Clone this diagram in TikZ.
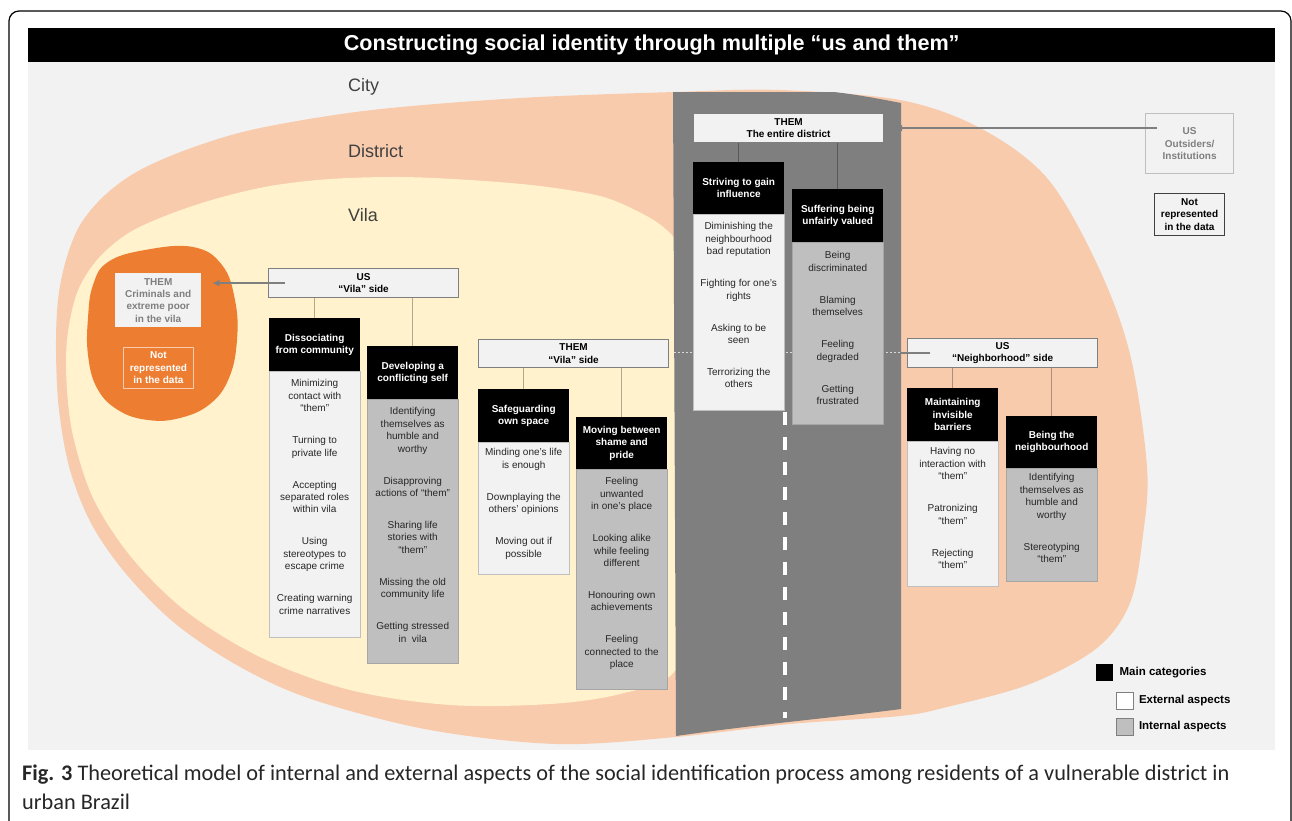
\documentclass[tikz,border=0pt]{standalone}
\usepackage{fontspec}
\setmainfont{Liberation Sans}
\newfontfamily\capfont{Carlito}
\usetikzlibrary{positioning,arrows.meta}

\definecolor{panelgray}{HTML}{F2F2F2}
\definecolor{peach}{HTML}{F8CBAD}
\definecolor{cream}{HTML}{FFF2CC}
\definecolor{vilaorange}{HTML}{ED7D31}
\definecolor{roadgray}{HTML}{7F7F7F}
\definecolor{intgray}{HTML}{BFBFBF}
\definecolor{borderint}{HTML}{A6A6A6}
\definecolor{linegray}{HTML}{7F7F7F}
\definecolor{labelgray}{HTML}{404040}
\definecolor{textdark}{HTML}{262626}

\newlength{\itemgap}
\setlength{\itemgap}{19.6pt}

\begin{document}
\begin{tikzpicture}[x=1pt, y=-1pt,
    hdr/.style={draw=linegray, line width=1.2pt, fill=panelgray, anchor=north west, inner sep=0pt,
        minimum width=190pt, minimum height=29pt, align=center, text=black,
        font=\fontsize{10}{12.4}\selectfont\bfseries},
    cat/.style={fill=black, text=white, anchor=north west, inner sep=0pt, minimum width=91pt,
        align=center, font=\fontsize{10}{12.4}\selectfont\bfseries},
    ext/.style={draw=intgray, line width=1pt, fill=panelgray, inner sep=0pt, minimum width=91pt},
    int/.style={draw=borderint, line width=1pt, fill=intgray, inner sep=0pt, minimum width=91pt},
    item/.style={inner sep=0pt, align=center, text=textdark, font=\fontsize{10}{12.4}\selectfont},
    notebox/.style={anchor=north west, inner sep=0pt, align=center, font=\fontsize{10}{12.4}\selectfont\bfseries},
    link/.style={draw=black, opacity=.3, line width=1pt},
    arr/.style={draw=linegray, line width=1.6pt, -{Latex[length=7pt,width=7pt]}},
    region/.style={anchor=west, inner sep=0pt, text=labelgray, font=\fontsize{18}{20}\selectfont},
    legtext/.style={inner sep=0pt, font=\fontsize{11.5}{13}\selectfont\bfseries}]

    \useasboundingbox (0,0) rectangle (1292,820);

    % rahmen und panel
    \draw[black, line width=1.2pt, rounded corners=10pt] (9,11) rectangle (1291,845);
    \fill[panelgray] (28,28) rectangle (1275,750);
    \node[fill=black, anchor=north west, inner sep=0pt, minimum width=1247pt, minimum height=34pt,
        text=white, font=\fontsize{21.6}{24}\selectfont\bfseries] (title) at (28,28)
        {Constructing social identity through multiple “us and them”};

    % district, vila, road
    \fill[peach] plot[smooth cycle, tension=0.55] coordinates {(780,90) (674,92) (520,98) (372,110)
        (260,128) (194,147) (140,170) (105,195) (80,225) (66,260) (58,300) (56,350) (59,410) (70,470)
        (92,525) (127,575) (177,625) (242,668) (314,700) (430,730) (557,744) (676,737) (790,724)
        (900,716) (947,707) (1030,684) (1097,648) (1130,603) (1143,535) (1147,467) (1130,354)
        (1097,264) (1047,178) (980,128) (900,100)};
    \fill[cream] plot[smooth cycle, tension=0.55] coordinates {(690,300) (678,246) (662,226) (635,210)
        (600,196) (540,186) (470,180) (400,177) (330,179) (270,186) (215,199) (165,216) (127,234)
        (97,260) (77,293) (67,340) (67,390) (74,440) (94,500) (132,558) (187,612) (262,658) (350,690)
        (450,705) (550,704) (620,694) (674,672) (695,600)};
    \fill[vilaorange] plot[smooth cycle, tension=0.7] coordinates {(193,247) (222,265) (235,300)
        (237,340) (229,378) (210,404) (180,418) (148,420) (118,410) (97,388) (88,355) (88,318)
        (93,285) (108,262) (145,250)};
    \fill[roadgray] (673,92) -- (834,92) .. controls (860,95) and (880,99) .. (901,103) -- (901,709)
        .. controls (840,717) and (760,724) .. (676,736) -- cycle;
    \draw[white, line width=3.5pt, dash pattern=on 13pt off 12pt] (785,412) -- (785,718);

    \node[region] (city) at (348,87) {City};
    \node[region] (district) at (348,151) {District};
    \node[region] (vila) at (348,215) {Vila};

    % kopfzeilen
    \node[hdr] (themdist) at (693,113) {THEM\\The entire district};
    \node[hdr] (usvila) at (268,268) {US\\“Vila” side};
    \node[hdr, minimum height=28pt] (themvila) at (478,339) {THEM\\“Vila” side};
    \node[hdr] (usnbh) at (907,338) {US\\“Neighborhood” side};

    \node[notebox, fill=panelgray, minimum width=86pt, minimum height=54pt, text=linegray] (crimin)
        at (115,273) {THEM\\Criminals and\\extreme poor\\in the vila};
    \node[notebox, draw=peach, line width=.8pt, minimum width=70pt, minimum height=41pt, text=white]
        (notrepl) at (123,347) {Not\\represented\\in the data};
    \node[notebox, draw=intgray, line width=1.2pt, minimum width=88pt, minimum height=60pt, text=linegray]
        (outsid) at (1145,113) {US\\Outsiders/\\Institutions};
    \node[notebox, draw=labelgray, line width=1pt, minimum width=70pt, minimum height=42pt, text=black]
        (notrepr) at (1154,193) {Not\\represented\\in the data};

    % pfeile
    \draw[arr, shorten >=11pt] ([xshift=17pt]usvila.west) -- (crimin.east |- usvila.west);
    \draw[arr, shorten >=11pt] ([xshift=12pt]outsid.west |- themdist.east) -- (themdist.east);
    \draw[arr, shorten >=19pt] ([xshift=23pt]usnbh.west) -- (themvila.east |- usnbh.west);
    \draw[roadgray, line width=3pt] (673.5,352.5) -- (900.5,352.5);
    \draw[white!85!black, line width=1.6pt, dash pattern=on 1.6pt off 2.4pt] (674,352.5) -- (900,352.5);

    % the entire district
    \node[cat, minimum height=52pt] (striv) at (693,162) {Striving to gain\\influence};
    \node[ext, minimum height=196pt, below=0pt of striv] (strivx) {};
    \node[item, below=8pt] (strivt) at (strivx.north) {Diminishing the\\neighbourhood\\bad reputation\\[\itemgap]Fighting for one’s\\rights\\[\itemgap]Asking to be\\seen\\[\itemgap]Terrorizing the\\others};

    \node[cat, minimum height=53pt] (suffer) at (792,189) {Suffering being\\unfairly valued};
    \node[int, minimum height=182pt, below=0pt of suffer] (sufferx) {};
    \node[item, below=9pt] (suffert) at (sufferx.north) {Being\\discriminated\\[\itemgap]Blaming\\themselves\\[\itemgap]Feeling\\degraded\\[\itemgap]Getting\\frustrated};

    % us vila side
    \node[cat, minimum height=53pt] (dissoc) at (269,318) {Dissociating\\from community};
    \node[ext, minimum height=266pt, below=0pt of dissoc] (dissocx) {};
    \node[item, below=8pt] (dissoct) at (dissocx.north) {Minimizing\\contact with\\“them”\\[\itemgap]Turning to\\private life\\[\itemgap]Accepting\\separated roles\\within vila\\[\itemgap]Using\\stereotypes to\\escape crime\\[\itemgap]Creating warning\\crime narratives};

    \node[cat, minimum height=53pt] (develop) at (367,346) {Developing a\\conflicting self};
    \node[int, minimum height=264pt, below=0pt of develop] (developx) {};
    \node[item, below=8pt] (developt) at (developx.north) {Identifying\\themselves as\\humble and\\worthy\\[\itemgap]Disapproving\\actions of “them”\\[\itemgap]Sharing life\\stories with\\“them”\\[\itemgap]Missing the old\\community life\\[\itemgap]Getting stressed\\in\ \ vila};

    % them vila side
    \node[cat, minimum height=53pt] (safe) at (478,389) {Safeguarding\\own space};
    \node[ext, minimum height=132pt, below=0pt of safe] (safex) {};
    \node[item, below=6pt] (safet) at (safex.north) {Minding one’s life\\is enough\\[\itemgap]Downplaying the\\others’ opinions\\[\itemgap]Moving out if\\possible};

    \node[cat, minimum height=52pt] (moving) at (576,417) {Moving between\\shame and\\pride};
    \node[int, minimum height=220pt, below=0pt of moving] (movingx) {};
    \node[item, below=8pt] (movingt) at (movingx.north) {Feeling\\unwanted\\in one’s place\\[\itemgap]Looking alike\\while feeling\\different\\[\itemgap]Honouring own\\achievements\\[\itemgap]Feeling\\connected to the\\place};

    % us neighborhood side
    \node[cat, minimum height=53pt] (barrier) at (907,388) {Maintaining\\invisible\\barriers};
    \node[ext, minimum height=145pt, below=0pt of barrier] (barrierx) {};
    \node[item, below=6pt] (barriert) at (barrierx.north) {Having no\\interaction with\\“them”\\[\itemgap]Patronizing\\“them”\\[\itemgap]Rejecting\\“them”};

    \node[cat, minimum height=52pt] (beingnb) at (1006,416) {Being the\\neighbourhood};
    \node[int, minimum height=113pt, below=0pt of beingnb] (beingnbx) {};
    \node[item, below=5pt] (beingnbt) at (beingnbx.north) {Identifying\\themselves as\\humble and\\worthy\\[\itemgap]Stereotyping\\“them”};

    % verbindungen
    \draw[link] (striv.north |- themdist.south) -- (striv.north);
    \draw[link] (suffer.north |- themdist.south) -- (suffer.north);
    \draw[link] (dissoc.north |- usvila.south) -- (dissoc.north);
    \draw[link] (develop.north |- usvila.south) -- (develop.north);
    \draw[link] (safe.north |- themvila.south) -- (safe.north);
    \draw[link] (moving.north |- themvila.south) -- (moving.north);
    \draw[link] (barrier.north |- usnbh.south) -- (barrier.north);
    \draw[link] (beingnb.north |- usnbh.south) -- (beingnb.north);

    % legende
    \node[fill=black, minimum size=17pt, inner sep=0pt, anchor=north west] (legmain) at (1096,664) {};
    \node[legtext, right=6pt of legmain] (legmaint) {Main categories};
    \node[draw=linegray, fill=white, line width=.8pt, minimum size=17pt, inner sep=0pt, anchor=north west] (legext) at (1116,692) {};
    \node[legtext, right=5pt of legext] (legextt) {External aspects};
    \node[draw=linegray, fill=intgray, line width=.8pt, minimum size=17pt, inner sep=0pt, anchor=north west] (legint) at (1116,718) {};
    \node[legtext, right=5pt of legint] (legintt) {Internal aspects};

    % bildunterschrift
    \node[anchor=base west, inner sep=0pt, text=black!85, font=\capfont\fontsize{22.3}{26}\selectfont] (capone) at (22,780)
        {\textbf{Fig. 3} Theoretical model of internal and external aspects of the social identification process among residents of a vulnerable district in};
    \node[anchor=base west, inner sep=0pt, text=black!85, font=\capfont\fontsize{22.3}{26}\selectfont] (captwo) at (22,809)
        {urban Brazil};
\end{tikzpicture}
\end{document}
